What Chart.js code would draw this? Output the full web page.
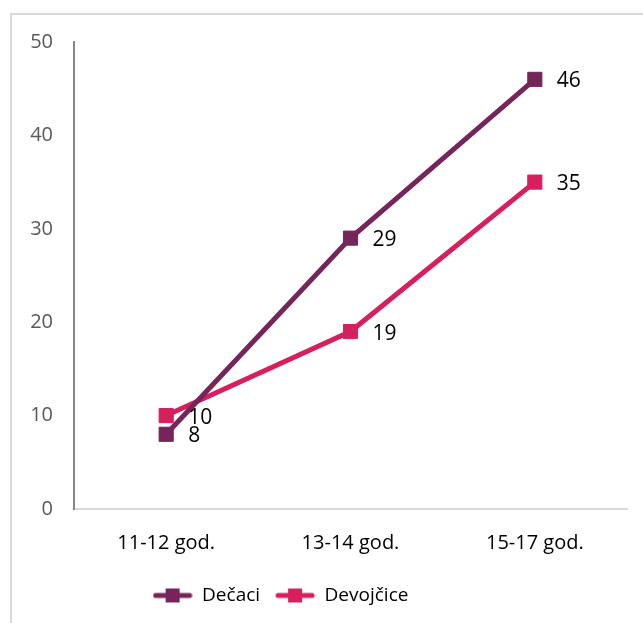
<!DOCTYPE html>
<html>
<head>
<meta charset="utf-8">
<script src="https://cdn.jsdelivr.net/npm/chart.js@4"></script>
<style>
  body { margin: 0; background: #fff; }
  canvas { display: block; }
</style>
</head>
<body>
<canvas id="ageChart" width="643" height="623"></canvas>
<script>
// data
const ageGroups = ['11-12 god.', '13-14 god.', '15-17 god.'];
const boysValues = [8, 29, 46];
const girlsValues = [10, 19, 35];
const yTicks = [0, 10, 20, 30, 40, 50];

const boysColor = '#76255A';
const girlsColor = '#D81F5E';

// little line + square icon for the legend
function legendIcon(color) {
  const c = document.createElement('canvas');
  c.width = 40; c.height = 16;
  const ctx = c.getContext('2d');
  ctx.strokeStyle = color;
  ctx.lineWidth = 5;
  ctx.lineCap = 'round';
  ctx.beginPath();
  ctx.moveTo(3, 8);
  ctx.lineTo(37, 8);
  ctx.stroke();
  ctx.fillStyle = color;
  ctx.fillRect(13, 1, 14, 14);
  return c;
}

// the frame, only top and left edge show
const framePlugin = {
  id: 'frame',
  beforeDraw(chart) {
    const ctx = chart.ctx;
    ctx.save();
    ctx.strokeStyle = '#d9d9d9';
    ctx.lineWidth = 2;
    ctx.beginPath();
    ctx.moveTo(11, 623);
    ctx.lineTo(11, 14);
    ctx.lineTo(643, 14);
    ctx.stroke();
    ctx.restore();
  }
};

// legend sits a bit left of centre in the original
const legendShift = {
  id: 'legendShift',
  afterLayout(chart) {
    chart.legend.left -= 33;
    chart.legend.right -= 33;
  }
};

// value labels to the right of each point
const valueLabels = {
  id: 'valueLabels',
  afterDatasetsDraw(chart) {
    const ctx = chart.ctx;
    ctx.save();
    ctx.font = '21px "Open Sans"';
    ctx.fillStyle = '#000';
    ctx.textAlign = 'left';
    ctx.textBaseline = 'middle';
    chart.data.datasets.forEach((ds, i) => {
      chart.getDatasetMeta(i).data.forEach((pt, j) => {
        ctx.fillText(ds.data[j], pt.x + 22, pt.y + 2);
      });
    });
    ctx.restore();
  }
};

const ageChart = new Chart(document.getElementById('ageChart'), {
  type: 'line',
  data: {
    labels: ageGroups,
    datasets: [
      { label: 'Dečaci',
        data: boysValues,
        borderColor: boysColor,
        backgroundColor: boysColor,
        borderWidth: 5,
        tension: 0,
        pointStyle: 'rect',
        pointRadius: 10,
        pointBorderWidth: 1,
        pointStyleIcon: legendIcon(boysColor)
      },
      { label: 'Devojčice',
        data: girlsValues,
        borderColor: girlsColor,
        backgroundColor: girlsColor,
        borderWidth: 5,
        tension: 0,
        pointStyle: 'rect',
        pointRadius: 10,
        pointBorderWidth: 1,
        pointStyleIcon: legendIcon(girlsColor)
      }
    ]
  },
  options: {
    responsive: false,
    animation: false,
    layout: { padding: { top: 42, right: 16, left: 0, bottom: 8 } },
    plugins: {
      tooltip: { enabled: false },
      legend: {
        position: 'bottom',
        labels: {
          usePointStyle: true,
          pointStyleWidth: 40,
          padding: 15,
          color: '#000',
          font: { family: 'Open Sans', size: 19 },
          generateLabels(chart) {
            return chart.data.datasets.map((ds, i) => ({
              text: ds.label,
              pointStyle: ds.pointStyleIcon,
              fillStyle: ds.borderColor,
              strokeStyle: ds.borderColor,
              lineWidth: 0,
              fontColor: '#000',
              datasetIndex: i
            }));
          }
        }
      }
    },
    scales: {
      x: {
        offset: true,
        grid: { display: false, drawTicks: false },
        border: { color: '#d9d9d9', width: 2 },
        ticks: { color: '#000', padding: 22, font: { family: 'Open Sans', size: 20 } },
        afterFit(s) { s.height = 62; }
      },
      y: {
        min: 0,
        max: 50,
        afterBuildTicks(s) { s.ticks = yTicks.map(v => ({ value: v })); },
        grid: { display: false, drawTicks: false },
        border: { color: '#868686', width: 2 },
        ticks: { color: '#595959', padding: 21, font: { family: 'Open Sans', size: 20 } },
        afterFit(s) { s.width = 74; }
      }
    }
  },
  plugins: [framePlugin, legendShift, valueLabels]
});
</script>
</body>
</html>
